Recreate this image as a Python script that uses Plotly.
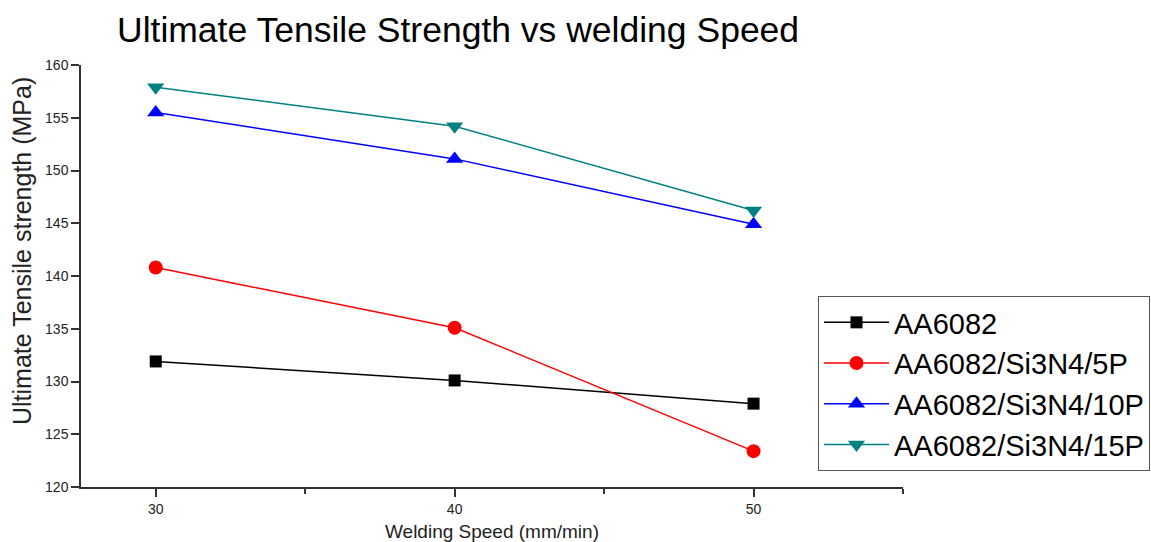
import plotly.graph_objects as go

# Welding speed (mm/min)
speed = [30, 40, 50]

# Ultimate tensile strength (MPa) per material
uts_aa6082 = [131.9, 130.1, 127.9]
uts_5p = [140.8, 135.1, 123.4]
uts_10p = [155.5, 151.1, 144.9]
uts_15p = [157.9, 154.2, 146.2]

series_names = ["AA6082", "AA6082/Si3N4/5P", "AA6082/Si3N4/10P", "AA6082/Si3N4/15P"]
series_values = [uts_aa6082, uts_5p, uts_10p, uts_15p]
colors = ["#000000", "#ff0000", "#0000ff", "#008080"]
symbols = ["square", "circle", "triangle-up", "triangle-down"]
sizes = [12, 14, 15, 15]

FONT = "Arial, Liberation Sans, sans-serif"
W, H = 1151, 542
L, R, T, B = 81, 248, 65, 55
plot_w, plot_h = W - L - R, H - T - B

fig = go.Figure()
for name, vals, c, s, sz in zip(series_names, series_values, colors, symbols, sizes):
    fig.add_trace(go.Scatter(
        x=speed, y=vals, name=name, mode="lines+markers",
        line=dict(color=c, width=1.5),
        marker=dict(symbol=s, size=sz, color=c, line=dict(width=0)),
    ))

# vertical axis title placed as a rotated annotation
fig.add_annotation(
    text="Ultimate Tensile strength (MPa)", textangle=-90,
    xref="paper", yref="paper",
    x=(22 - L) / plot_w, y=(H - B - 251) / plot_h,
    xanchor="center", yanchor="middle", showarrow=False,
    font=dict(size=25, family=FONT, color="#222222"),
)

fig.update_layout(
    width=W, height=H,
    paper_bgcolor="white", plot_bgcolor="white",
    margin=dict(l=L, r=R, t=T, b=B, autoexpand=False),
    font=dict(family=FONT, color="#000000"),
    title=dict(text="Ultimate Tensile Strength vs welding Speed",
               font=dict(size=35.5, family=FONT, color="#000000"),
               x=117 / W, xanchor="left", y=1 - 30 / H, yanchor="middle"),
    showlegend=True,
    legend=dict(
        x=(818 - L) / plot_w, xanchor="left",
        y=(H - B - 296) / plot_h, yanchor="top",
        font=dict(size=29, family=FONT, color="#000000"),
        bordercolor="#555555", borderwidth=1, bgcolor="white",
        tracegroupgap=0, itemsizing="trace", itemwidth=65,
    ),
    xaxis=dict(
        range=[27.5, 55], tickvals=[30, 40, 50], ticktext=["30", "40", "50"],
        ticks="outside", ticklen=8, tickwidth=1.5, tickcolor="#333333",
        minor=dict(tickvals=[35, 45, 55], ticks="outside", ticklen=5, tickwidth=1.5, tickcolor="#333333"),
        showline=True, linecolor="#333333", linewidth=1.5,
        showgrid=False, zeroline=False, automargin=False,
        tickfont=dict(size=14, family=FONT, color="#222222"),
        title=dict(text="Welding Speed (mm/min)", font=dict(size=19, family=FONT, color="#222222"), standoff=10),
    ),
    yaxis=dict(
        range=[120, 160], tickvals=[120, 125, 130, 135, 140, 145, 150, 155, 160],
        ticks="outside", ticklen=8, tickwidth=1.5, tickcolor="#333333",
        showline=True, linecolor="#333333", linewidth=1.5,
        showgrid=False, zeroline=False, automargin=False,
        tickfont=dict(size=14, family=FONT, color="#222222"),
    ),
)

fig.write_html("out.html")
